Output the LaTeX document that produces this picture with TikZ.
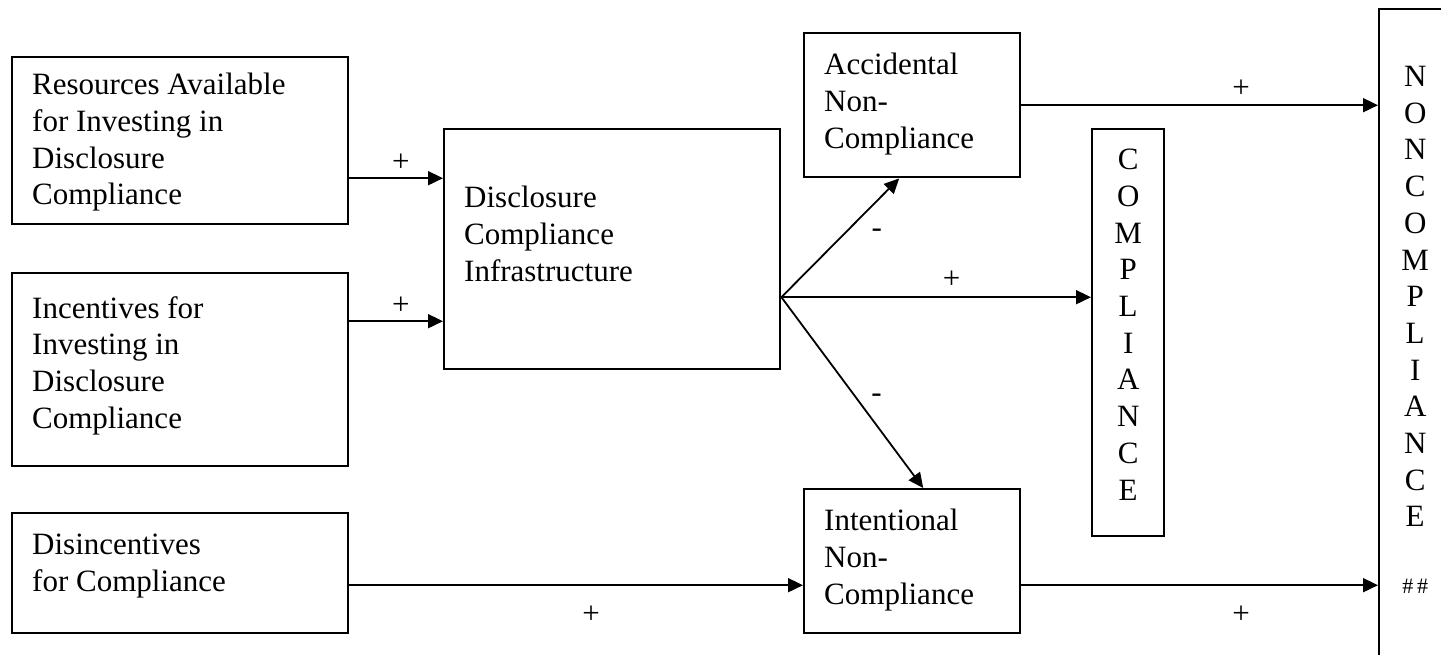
\documentclass[tikz,border=0pt]{standalone}
\usepackage{fontspec}
\setmainfont{Liberation Serif}
\usetikzlibrary{arrows.meta,positioning}
\newcommand{\boxlines}[3]{\parbox[c][#2][t]{#1}{\raggedright #3}}
\newcommand{\stacked}[2]{\parbox[c][#1][t]{72pt}{\centering #2}}

\begin{document}
\begin{tikzpicture}[x=1pt,y=-1pt,
    every node/.style={font=\fontsize{31}{36.7}\selectfont},
    block/.style={draw,line width=2.4pt,anchor=north west,inner xsep=20pt},
    flow/.style={-{Triangle[length=15pt,width=14pt]},line width=1.8pt},
    sign/.style={inner sep=0pt}]
  \useasboundingbox (0,0) rectangle (1441,654);
  \clip (0,0) rectangle (1441,654);
  \node[block,inner ysep=16pt] (res) at (11,56) {\boxlines{296pt}{135pt}{Resources Available\\for Investing in\\Disclosure\\Compliance}};
  \node[block,inner ysep=23pt] (inc) at (11,272) {\boxlines{296pt}{147pt}{Incentives for\\Investing in\\Disclosure\\Compliance}};
  \node[block,inner ysep=21pt] (dis) at (11,512) {\boxlines{296pt}{78pt}{Disincentives\\for Compliance}};
  \node[block,inner ysep=57pt] (infra) at (443,128) {\boxlines{296pt}{126pt}{Disclosure\\Compliance\\Infrastructure}};
  \node[block,inner ysep=20pt] (acc) at (803,32) {\boxlines{176pt}{104pt}{Accidental\\Non-\\Compliance}};
  \node[block,inner ysep=20pt] (intn) at (803,488) {\boxlines{176pt}{104pt}{Intentional\\Non-\\Compliance}};
  \node[block,inner xsep=0pt,inner ysep=20pt] (comp) at (1091,128) {\stacked{367pt}{C\\O\\M\\P\\L\\I\\A\\N\\C\\E}};
  \node[block,inner xsep=0pt,inner ysep=57pt] (noncomp) at (1378,8) {\stacked{548pt}{N\\O\\N\\C\\O\\M\\P\\L\\I\\A\\N\\C\\E\\[30pt]{\fontsize{22}{26}\selectfont\#\,\#}}};
  \coordinate (fan) at ([yshift=-48pt]infra.east);
  \draw[flow] ([yshift=-37.5pt]res.east) -- ([yshift=-37.5pt]res.east -| infra.west) node[sign,pos=.55,yshift=15pt] {+};
  \draw[flow] ([yshift=48.5pt]inc.east) -- ([yshift=48.5pt]inc.east -| infra.west) node[sign,pos=.55,yshift=15pt] {+};
  \draw[flow] ([yshift=-12pt]dis.east) -- ([yshift=-12pt]dis.east -| intn.west) node[sign,pos=.533,yshift=-30pt] {+};
  \draw[flow] (fan) -- ([xshift=-13pt]acc.south) node[sign,pos=.81,yshift=-32pt] {-};
  \draw[flow] (fan) -- (fan -| comp.west) node[sign,pos=.55,yshift=17pt] {+};
  \draw[flow] (fan) -- ([xshift=11pt]intn.north) node[sign,pos=.67,yshift=27pt] {-};
  \draw[flow] (acc.east) -- (acc.east -| noncomp.west) node[sign,pos=.616,yshift=16pt] {+};
  \draw[flow] ([yshift=-24pt]intn.east) -- ([yshift=-24pt]intn.east -| noncomp.west) node[sign,pos=.616,yshift=-30pt] {+};
\end{tikzpicture}
\end{document}
